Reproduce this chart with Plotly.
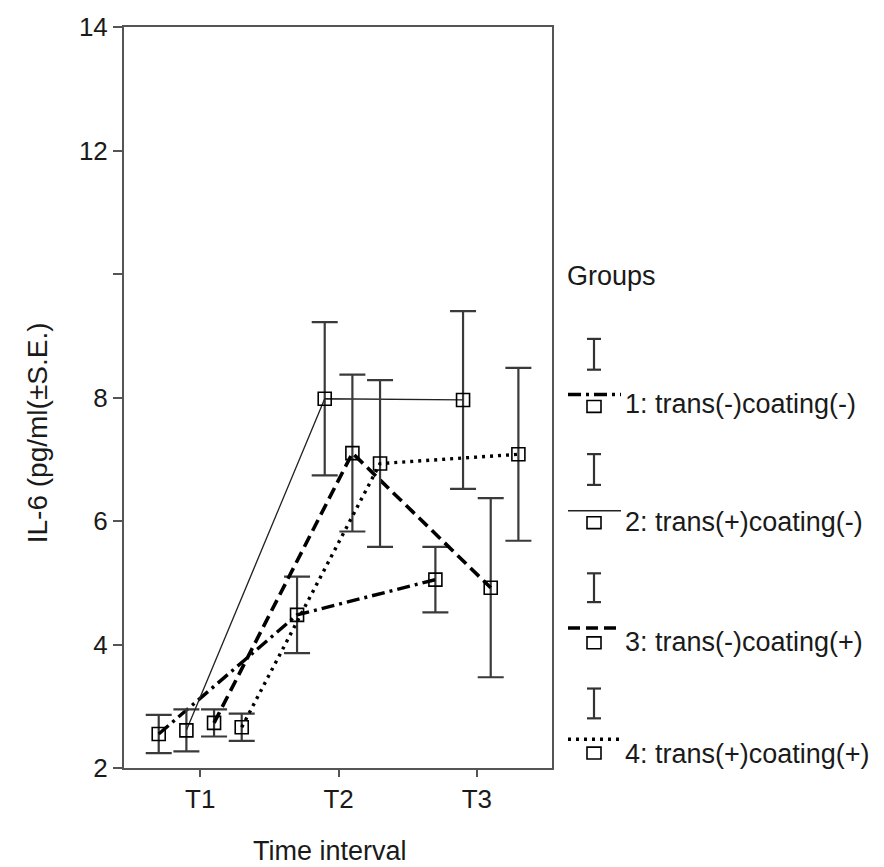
import plotly.graph_objects as go

# ---------------- data ----------------
time_labels = ["T1", "T2", "T3"]
time_pos = [1, 2, 3]
group_names = ["1: trans(-)coating(-)", "2: trans(+)coating(-)",
               "3: trans(-)coating(+)", "4: trans(+)coating(+)"]
group_offsets = [-0.3, -0.1, 0.1, 0.3]

g1_mean = [2.55, 4.48, 5.05]
g1_se = [0.31, 0.62, 0.53]
g2_mean = [2.61, 7.98, 7.96]
g2_se = [0.34, 1.24, 1.44]
g3_mean = [2.73, 7.10, 4.92]
g3_se = [0.22, 1.27, 1.45]
g4_mean = [2.66, 6.93, 7.08]
g4_se = [0.22, 1.35, 1.40]

y_ticks = [2, 4, 6, 8, 10, 12, 14]
y_ticktext = ["2", "4", "6", "8", "", "12", "14"]

means = [g1_mean, g2_mean, g3_mean, g4_mean]
ses = [g1_se, g2_se, g3_se, g4_se]

# ---------------- styles ----------------
line_styles = [
    dict(color="black", width=3.4, dash="13px,5px,3px,5px"),
    dict(color="#222", width=1.3, dash="solid"),
    dict(color="black", width=3.6, dash="12px,6px"),
    dict(color="black", width=3.4, dash="3px,5px"),
]
FONT = "Liberation Sans, Arial, sans-serif"
TXT = "#1a1a1a"
W, H = 884, 867
L, R, T, B = 124, 552, 22, 768

def px_x(x):
    return (x - L) / (R - L)

def px_y(y):
    return (B - y) / (B - T)

fig = go.Figure()
for i in range(4):
    xs = [p + group_offsets[i] for p in time_pos]
    fig.add_trace(go.Scatter(
        x=xs, y=means[i], mode="lines+markers", name=group_names[i],
        line=line_styles[i],
        marker=dict(symbol="square-open", size=13, color="black",
                    line=dict(width=1.6, color="black")),
        error_y=dict(type="data", array=ses[i], visible=True,
                     color="#3a3a3a", thickness=2.2, width=13),
        showlegend=False,
    ))

# ---------------- custom legend ----------------
shapes = []
annotations = []
annotations.append(dict(x=px_x(565), y=px_y(273), xref="paper", yref="paper",
                        text="Groups", showarrow=False, xanchor="left",
                        yanchor="middle", font=dict(family=FONT, size=27, color=TXT)))
entries = [
    (336, 367, 392, 404, 402),
    (452, 483, 509, 521, 520),
    (572, 601, 627, 642, 641),
    (688, 718, 739, 753, 754),
]
for i, (it, ib, ly, sy, ty) in enumerate(entries):
    cx = 594
    # error bar glyph
    shapes.append(dict(type="line", xref="paper", yref="paper",
                       x0=px_x(cx), x1=px_x(cx), y0=px_y(it), y1=px_y(ib),
                       line=dict(color="#333", width=2.2)))
    for yy in (it, ib):
        shapes.append(dict(type="line", xref="paper", yref="paper",
                           x0=px_x(cx - 7), x1=px_x(cx + 7), y0=px_y(yy), y1=px_y(yy),
                           line=dict(color="#333", width=2.2)))
    # line sample
    shapes.append(dict(type="line", xref="paper", yref="paper",
                       x0=px_x(568), x1=px_x(621), y0=px_y(ly), y1=px_y(ly),
                       line=dict(line_styles[i])))
    # square marker
    shapes.append(dict(type="rect", xref="paper", yref="paper",
                       x0=px_x(cx - 7), x1=px_x(cx + 7), y0=px_y(sy - 6), y1=px_y(sy + 6),
                       line=dict(color="black", width=1.6), fillcolor="white"))
    annotations.append(dict(x=px_x(623), y=px_y(ty), xref="paper", yref="paper",
                            text=group_names[i], showarrow=False, xanchor="left",
                            yanchor="middle", font=dict(family=FONT, size=27, color=TXT)))

# axis titles
annotations.append(dict(x=px_x(37), y=px_y(431), xref="paper", yref="paper",
                        text="IL-6 (pg/ml(±S.E.)", textangle=-90, showarrow=False,
                        xanchor="center", yanchor="middle",
                        font=dict(family=FONT, size=28, color=TXT)))
annotations.append(dict(x=px_x(330), y=px_y(852), xref="paper", yref="paper",
                        text="Time interval", showarrow=False,
                        xanchor="center", yanchor="middle",
                        font=dict(family=FONT, size=27, color=TXT)))

fig.update_layout(
    width=W, height=H,
    margin=dict(l=L, r=W - R, t=T, b=H - B, pad=0),
    paper_bgcolor="white", plot_bgcolor="white",
    shapes=shapes, annotations=annotations,
    font=dict(family=FONT, color=TXT),
)
fig.update_xaxes(range=[0.449, 3.543], tickvals=time_pos, ticktext=time_labels,
                 showline=True, mirror=True, linecolor="#555", linewidth=2,
                 ticks="outside", ticklen=7, tickwidth=2, tickcolor="#555",
                 showgrid=False, zeroline=False, tickfont=dict(size=26, family=FONT, color=TXT))
fig.update_yaxes(range=[2, 14], tickvals=y_ticks, ticktext=y_ticktext,
                 showline=True, mirror=True, linecolor="#555", linewidth=2,
                 ticks="outside", ticklen=9, tickwidth=2, tickcolor="#555",
                 showgrid=False, zeroline=False, tickfont=dict(size=26, family=FONT, color=TXT))

fig.write_html("out.html")
